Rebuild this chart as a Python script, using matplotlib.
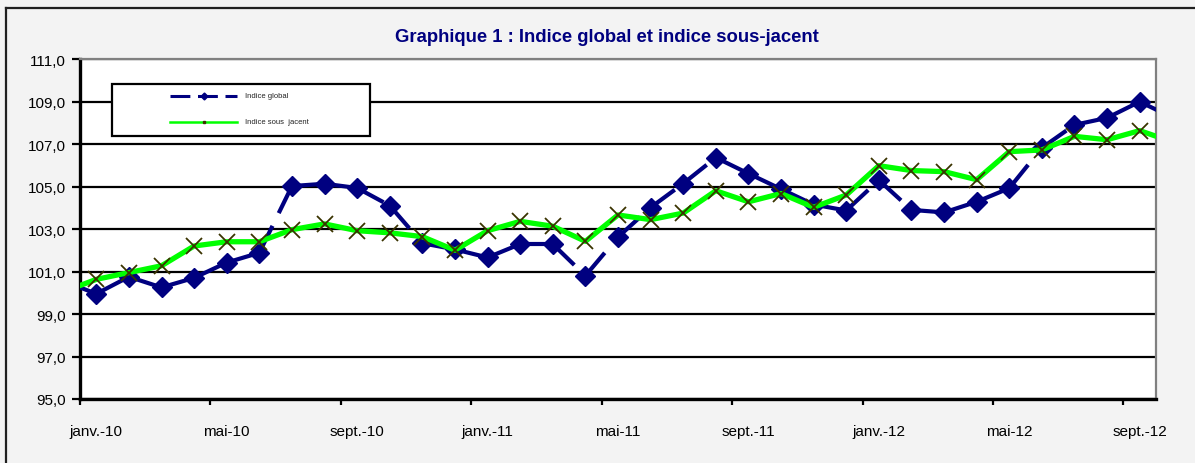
import matplotlib
matplotlib.use("Agg")
import matplotlib.pyplot as plt
from matplotlib.lines import Line2D
from matplotlib.patches import Rectangle
import numpy as np

plt.rcParams['font.family'] = ['Liberation Sans', 'DejaVu Sans']

# Months: déc-09 (clipped), janv-10 ... sept-12, oct-12 (clipped)
months = ["déc.-09",
          "janv.-10", "févr.-10", "mars-10", "avr.-10", "mai-10", "juin-10",
          "juil.-10", "août-10", "sept.-10", "oct.-10", "nov.-10", "déc.-10",
          "janv.-11", "févr.-11", "mars-11", "avr.-11", "mai-11", "juin-11",
          "juil.-11", "août-11", "sept.-11", "oct.-11", "nov.-11", "déc.-11",
          "janv.-12", "févr.-12", "mars-12", "avr.-12", "mai-12", "juin-12",
          "juil.-12", "août-12", "sept.-12", "oct.-12"]

indice_global = [100.55,
                 99.95, 100.75, 100.25, 100.70, 101.42, 101.88,
                 105.02, 105.13, 104.93, 104.10, 102.33, 102.04,
                 101.66, 102.29, 102.29, 100.80, 102.62, 104.01,
                 105.14, 106.36, 105.61, 104.88, 104.15, 103.87,
                 105.30, 103.90, 103.78, 104.28, 104.92, 106.82,
                 107.90, 108.23, 108.99, 108.25]

indice_sous_jacent = [100.05,
                      100.63, 100.95, 101.27, 102.20, 102.40, 102.40,
                      102.97, 103.24, 102.92, 102.82, 102.64, 102.00,
                      102.92, 103.36, 103.13, 102.42, 103.66, 103.44,
                      103.75, 104.80, 104.28, 104.67, 104.02, 104.60,
                      105.98, 105.75, 105.70, 105.32, 106.64, 106.72,
                      107.36, 107.20, 107.63, 107.10]

xtick_labels = ["janv.-10", "mai-10", "sept.-10", "janv.-11", "mai-11",
                "sept.-11", "janv.-12", "mai-12", "sept.-12"]

yticks = [95, 97, 99, 101, 103, 105, 107, 109, 111]

NAVY = '#000080'
W, H = 1195, 464
fig = plt.figure(figsize=(W / 100, H / 100), dpi=100)
fig.patch.set_facecolor('#f3f3f3')

# outer chart frame (top & left visible)
fig.add_artist(Line2D([6 / W, 1.0], [1 - 9 / H, 1 - 9 / H], color='#202020', lw=1.6,
                      transform=fig.transFigure))
fig.add_artist(Line2D([6 / W, 6 / W], [0.0, 1 - 9 / H], color='#202020', lw=1.6,
                      transform=fig.transFigure))

ax = fig.add_axes([80 / W, 1 - 400 / H, (1156 - 80) / W, (400 - 60) / H])
ax.set_facecolor('white')

x = np.arange(len(months)) - 1  # janv.-10 at 0

# global index: navy dashed line, dash pattern restarting at every vertex
for i in range(len(x) - 1):
    ax.plot(x[i:i + 2], indice_global[i:i + 2], color=NAVY, lw=3.0,
            linestyle=(0, (7.2, 3.4)), dash_capstyle='butt', zorder=3)
ax.plot(x, indice_global, linestyle='none', marker='D', markersize=10,
        markerfacecolor=NAVY, markeredgecolor=NAVY, zorder=3.5)

# underlying index: lime with dark x markers
ax.plot(x, indice_sous_jacent, color='#00ff00', lw=3.8, marker='x',
        markersize=11, markeredgecolor='#3a3300', markeredgewidth=1.3,
        zorder=4)

ax.set_xlim(-0.5, 32.5)
ax.set_ylim(95, 111)

# gridlines
ax.set_yticks(yticks)
ax.set_yticklabels([f"{v:.1f}".replace('.', ',') for v in yticks], fontsize=11)
ax.yaxis.grid(True, color='black', lw=1.6, zorder=1)
ax.set_axisbelow(True)
ax.tick_params(axis='y', length=6, width=1.6, direction='out', pad=4, color='black')

# x ticks at category boundaries every 4 months, labels at category centres
ax.set_xticks(np.arange(-0.5, 33, 4))
ax.set_xticklabels([])
ax.tick_params(axis='x', which='major', length=4, width=1.6, direction='out')
ax.set_xticks(np.arange(0, 33, 4), minor=True)
ax.set_xticklabels(xtick_labels, minor=True, fontsize=11)
ax.tick_params(axis='x', which='minor', length=0, pad=18)

for side in ['left', 'bottom']:
    ax.spines[side].set_linewidth(2.4)
    ax.spines[side].set_color('black')
for side in ['top', 'right']:
    ax.spines[side].set_linewidth(1.6)
    ax.spines[side].set_color('#808080')

# legend box (manual)
lx0, lx1 = (112 - 80) / 1076, (370 - 80) / 1076
ly0, ly1 = (400 - 137) / 340, (400 - 85) / 340
ax.add_patch(Rectangle((lx0, ly0), lx1 - lx0, ly1 - ly0, transform=ax.transAxes,
                       facecolor='white', edgecolor='black', lw=1.6, zorder=6))
hx0, hx1 = (170 - 80) / 1076, (237 - 80) / 1076
r1, r2 = (400 - 97) / 340, (400 - 123) / 340
ax.add_line(Line2D([hx0, hx1], [r1, r1], transform=ax.transAxes, color=NAVY,
                   lw=2.2, linestyle=(0, (6.5, 2.5)), zorder=7))
ax.add_line(Line2D([(hx0 + hx1) / 2], [r1], transform=ax.transAxes, color=NAVY,
                   marker='D', markersize=3.5, zorder=7))
ax.add_line(Line2D([hx0, hx1], [r2, r2], transform=ax.transAxes, color='#00ff00',
                   lw=1.8, zorder=7))
ax.add_line(Line2D([(hx0 + hx1) / 2], [r2], transform=ax.transAxes, color='#3a3300',
                   marker='s', markersize=2, zorder=8))
tx = (245 - 80) / 1076
ax.text(tx, r1, "Indice global", transform=ax.transAxes, fontsize=5.5,
        va='center', ha='left', color='#222222', zorder=8)
ax.text(tx, r2, "Indice sous  jacent", transform=ax.transAxes, fontsize=5.5,
        va='center', ha='left', color='#222222', zorder=8)

fig.text(607 / W, 1 - 37 / H, "Graphique 1 : Indice global et indice sous-jacent",
         ha='center', va='center', fontsize=13.3, fontweight='bold', color=NAVY)

fig.savefig("out.png", dpi=100, facecolor=fig.get_facecolor())
